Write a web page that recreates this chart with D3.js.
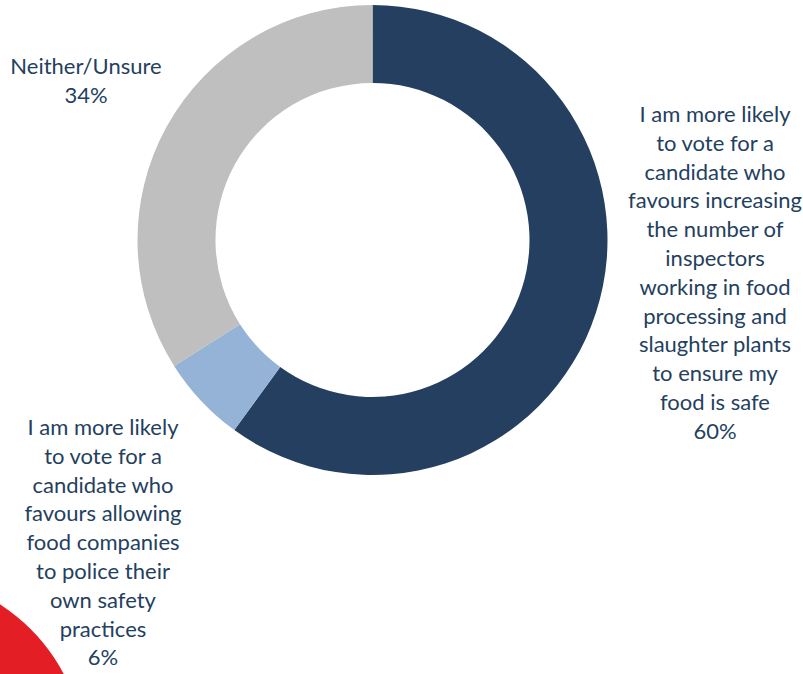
<!DOCTYPE html>
<html>
<head>
<meta charset="utf-8">
<script src="https://cdn.jsdelivr.net/npm/d3@7"></script>
<style>
  html, body { margin: 0; padding: 0; background: #fff; }
  svg { display: block; }
  text { font-family: Lato, "Open Sans", sans-serif; fill: #243F60; }
</style>
</head>
<body>
<svg id="chart" width="803" height="674"></svg>
<script>
// Data
const categories = [
  "I am more likely to vote for a candidate who favours increasing the number of inspectors working in food processing and slaughter plants to ensure my food is safe",
  "I am more likely to vote for a candidate who favours allowing food companies to police their own safety practices",
  "Neither/Unsure"
];
const values = [60, 6, 34];
const colors = ["#243F60", "#95B3D7", "#BFBFBF"];
const labelLines = [
  ["I am more likely", "to vote for a", "candidate who", "favours increasing", "the number of", "inspectors", "working in food", "processing and", "slaughter plants", "to ensure my", "food is safe"],
  ["I am more likely", "to vote for a", "candidate who", "favours allowing", "food companies", "to police their", "own safety", "practices"],
  ["Neither/Unsure"]
];

// Layout
const W = 803, H = 674;
const cx = 372.5, cy = 240, rOuter = 235, rInner = 157;
const labelPos = [
  { x: 715, y: 122 },
  { x: 103, y: 435 },
  { x: 86, y: 74 }
];
const lineH = 28.8;

const svg = d3.select("#chart");

// decorative logo fragment (bottom-left corner)
svg.append("path")
  .attr("transform", "translate(-100,760)")
  .attr("d", d3.arc()({ innerRadius: 100, outerRadius: 185, startAngle: 0, endAngle: Math.PI / 2 }))
  .attr("fill", "#E31E24");

const pie = d3.pie().sort(null).value(d => d.value);
const arc = d3.arc().innerRadius(rInner).outerRadius(rOuter);
const data = categories.map((c, i) => ({ name: c, value: values[i], color: colors[i], i }));

const g = svg.append("g").attr("transform", `translate(${cx},${cy})`);
g.selectAll("path.slice")
  .data(pie(data))
  .join("path")
  .attr("class", "slice")
  .attr("d", arc)
  .attr("fill", d => d.data.color);

// labels
data.forEach((d, i) => {
  const lines = labelLines[i].concat([d3.format(".0f")(d.value) + "%"]);
  const t = svg.append("text")
    .attr("x", labelPos[i].x)
    .attr("y", labelPos[i].y)
    .attr("text-anchor", "middle")
    .style("font-size", "22px");
  lines.forEach((l, j) => {
    t.append("tspan")
      .attr("x", labelPos[i].x)
      .attr("dy", j === 0 ? 0 : lineH)
      .text(l);
  });
});
</script>
</body>
</html>
